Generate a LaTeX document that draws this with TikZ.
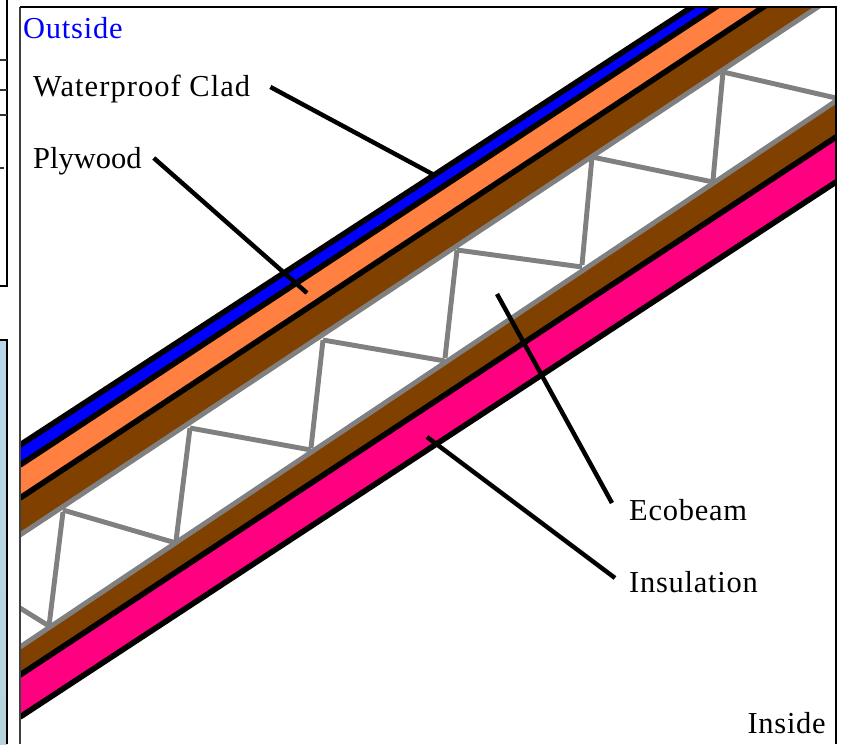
\documentclass[tikz,border=0pt]{standalone}
\usepackage{fontspec}
\setmainfont{Liberation Serif}
\definecolor{clad}{RGB}{0,0,255}
\definecolor{ply}{RGB}{255,128,64}
\definecolor{beam}{RGB}{128,64,0}
\definecolor{insul}{RGB}{255,0,128}
\definecolor{web}{RGB}{128,128,128}
\definecolor{panel}{RGB}{184,216,234}
\definecolor{panel low}{RGB}{183,212,220}
\tikzset{
  edge/.style={draw=black,line width=4.8pt},
  grey/.style={draw=web,line width=4.2pt},
  leader/.style={draw=black,line width=3.8pt},
  lbl/.style={font=\fontsize{26}{30}\selectfont\addfontfeature{LetterSpace=#1},inner sep=0pt,anchor=west},
  lbl/.default=2.5,
}
\begin{document}
\begin{tikzpicture}[x=0.03cm,y=-0.03cm]
  \useasboundingbox (0,0) rectangle (843,744);
  \fill[white] (0,0) rectangle (843,744);
  % left panels
  \shade[top color=panel,bottom color=panel low] (0,340) rectangle (7,744);
  \draw[black,line width=2pt] (0,340) -- (7,340) -- (7,744);
  \draw[black,line width=2pt] (7,0) -- (7,286) -- (0,286);
  \draw[black!80,line width=1.8pt] (0,60) -- (7,60) (0,90) -- (7,90) (0,115) -- (7,115) (0,168) -- (4,168);
  % layers
  \begin{scope}
    \clip (20,7) rectangle (836,744);
    \fill[clad] (20,445) -- (836,-87) -- (836,-72) -- (20,465) -- cycle;
    \fill[ply] (20,465) -- (836,-72) -- (836,-41) -- (20,498) -- cycle;
    \fill[beam] (20,498) -- (836,-41) -- (836,-5) -- (20,535) -- cycle;
    \fill[beam] (20,647) -- (836,101) -- (836,137) -- (20,675) -- cycle;
    \fill[insul] (20,675) -- (836,137) -- (836,182) -- (20,717) -- cycle;
    \foreach \a/\b in {445/-87,465/-72,498/-41,675/137,717/182}
      \draw[edge] (20,\a) -- (836,\b);
    \foreach \a/\b in {535/-5,647/101}
      \draw[grey] (20,\a) -- (836,\b);
    % webs
    \foreach \x/\y/\u/\v in {723/72/713/180,592/157/582/265,457/250/445/358,323/340/311/448,190/428/176/541,63/512/49/626}
      \draw[grey] (\x,\y) -- (\u,\v);
    \foreach \x/\y/\u/\v in {723/72/836/98,592/157/713/182,457/250/582/267,323/340/445/361,190/428/311/450,63/510/176/543,20/608/49/626}
      \draw[grey] (\x,\y) -- (\u,\v);
  \end{scope}
  \draw[black!75,line width=1.6pt] (20,744) -- (20,7);
  \draw[black,line width=1.8pt] (20,7) -- (836,7) -- (836,744);
  % labels
  \node[lbl,text=clad] (outside) at (23,28) {Outside};
  \node[lbl=3.5] (clad lbl) at (33,89) {Waterproof Clad};
  \node[lbl=0] (ply lbl) at (33,161) {Plywood};
  \node[lbl] (beam lbl) at (629,510) {Ecobeam};
  \node[lbl] (insul lbl) at (629,582) {Insulation};
  \node[lbl,anchor=east] (inside) at (826,723) {Inside};
  % leaders
  \coordinate (clad pt) at (436,176);
  \coordinate (ply pt) at (307,293);
  \coordinate (beam pt) at (497,294);
  \coordinate (insul pt) at (427,437);
  \draw[leader] (clad lbl.east) ++(20,-2) -- (clad pt);
  \draw[leader] (ply lbl.east) ++(12,-3) -- (ply pt);
  \draw[leader] (beam lbl.west) ++(-17,-7) -- (beam pt);
  \draw[leader] (insul lbl.west) ++(-14,-4) -- (insul pt);
\end{tikzpicture}
\end{document}
